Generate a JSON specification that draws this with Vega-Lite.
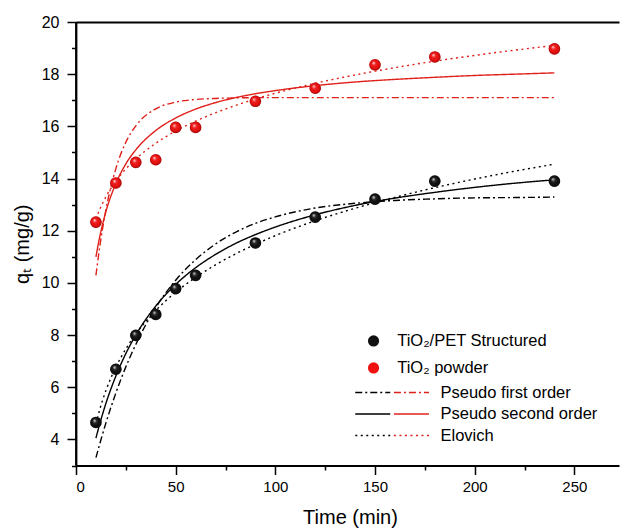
{
  "$schema": "https://vega.github.io/schema/vega-lite/v6.json",
  "width": 543,
  "height": 443.5,
  "autosize": "none",
  "padding": {"left": 76, "top": 22, "right": 2, "bottom": 62},
  "background": "white",
  "config": {
    "font": "Liberation Sans",
    "view": {"stroke": null},
    "axis": {"domainColor": "#000", "tickColor": "#000", "labelColor": "#000", "titleColor": "#000", "grid": false, "domainWidth": 1.8, "tickWidth": 1.5, "labelFont": "Liberation Sans", "titleFont": "Liberation Sans", "titleFontWeight": "normal"},
    "legend": {"labelFont": "Liberation Sans", "labelColor": "#000", "labelFontSize": 16.5, "labelLimit": 300, "padding": 0}
  },
  "datasets": {
    "fits": [
      {"t": 10, "q": 3.30, "series": "TiO2/PET", "model": "Pseudo first order"},
      {"t": 12, "q": 3.85, "series": "TiO2/PET", "model": "Pseudo first order"},
      {"t": 15, "q": 4.63, "series": "TiO2/PET", "model": "Pseudo first order"},
      {"t": 20, "q": 5.78, "series": "TiO2/PET", "model": "Pseudo first order"},
      {"t": 25, "q": 6.78, "series": "TiO2/PET", "model": "Pseudo first order"},
      {"t": 30, "q": 7.64, "series": "TiO2/PET", "model": "Pseudo first order"},
      {"t": 40, "q": 9.05, "series": "TiO2/PET", "model": "Pseudo first order"},
      {"t": 50, "q": 10.10, "series": "TiO2/PET", "model": "Pseudo first order"},
      {"t": 60, "q": 10.89, "series": "TiO2/PET", "model": "Pseudo first order"},
      {"t": 70, "q": 11.49, "series": "TiO2/PET", "model": "Pseudo first order"},
      {"t": 80, "q": 11.94, "series": "TiO2/PET", "model": "Pseudo first order"},
      {"t": 90, "q": 12.28, "series": "TiO2/PET", "model": "Pseudo first order"},
      {"t": 100, "q": 12.53, "series": "TiO2/PET", "model": "Pseudo first order"},
      {"t": 120, "q": 12.87, "series": "TiO2/PET", "model": "Pseudo first order"},
      {"t": 140, "q": 13.05, "series": "TiO2/PET", "model": "Pseudo first order"},
      {"t": 160, "q": 13.16, "series": "TiO2/PET", "model": "Pseudo first order"},
      {"t": 180, "q": 13.22, "series": "TiO2/PET", "model": "Pseudo first order"},
      {"t": 200, "q": 13.26, "series": "TiO2/PET", "model": "Pseudo first order"},
      {"t": 220, "q": 13.27, "series": "TiO2/PET", "model": "Pseudo first order"},
      {"t": 240, "q": 13.29, "series": "TiO2/PET", "model": "Pseudo first order"},
      {"t": 10, "q": 4.05, "series": "TiO2/PET", "model": "Pseudo second order"},
      {"t": 12, "q": 4.62, "series": "TiO2/PET", "model": "Pseudo second order"},
      {"t": 15, "q": 5.38, "series": "TiO2/PET", "model": "Pseudo second order"},
      {"t": 20, "q": 6.43, "series": "TiO2/PET", "model": "Pseudo second order"},
      {"t": 25, "q": 7.29, "series": "TiO2/PET", "model": "Pseudo second order"},
      {"t": 30, "q": 8.00, "series": "TiO2/PET", "model": "Pseudo second order"},
      {"t": 40, "q": 9.11, "series": "TiO2/PET", "model": "Pseudo second order"},
      {"t": 50, "q": 9.94, "series": "TiO2/PET", "model": "Pseudo second order"},
      {"t": 60, "q": 10.58, "series": "TiO2/PET", "model": "Pseudo second order"},
      {"t": 70, "q": 11.09, "series": "TiO2/PET", "model": "Pseudo second order"},
      {"t": 80, "q": 11.51, "series": "TiO2/PET", "model": "Pseudo second order"},
      {"t": 90, "q": 11.85, "series": "TiO2/PET", "model": "Pseudo second order"},
      {"t": 100, "q": 12.14, "series": "TiO2/PET", "model": "Pseudo second order"},
      {"t": 120, "q": 12.61, "series": "TiO2/PET", "model": "Pseudo second order"},
      {"t": 140, "q": 12.97, "series": "TiO2/PET", "model": "Pseudo second order"},
      {"t": 160, "q": 13.25, "series": "TiO2/PET", "model": "Pseudo second order"},
      {"t": 180, "q": 13.47, "series": "TiO2/PET", "model": "Pseudo second order"},
      {"t": 200, "q": 13.66, "series": "TiO2/PET", "model": "Pseudo second order"},
      {"t": 220, "q": 13.82, "series": "TiO2/PET", "model": "Pseudo second order"},
      {"t": 240, "q": 13.95, "series": "TiO2/PET", "model": "Pseudo second order"},
      {"t": 10, "q": 4.60, "series": "TiO2/PET", "model": "Elovich"},
      {"t": 12, "q": 5.17, "series": "TiO2/PET", "model": "Elovich"},
      {"t": 15, "q": 5.87, "series": "TiO2/PET", "model": "Elovich"},
      {"t": 20, "q": 6.77, "series": "TiO2/PET", "model": "Elovich"},
      {"t": 25, "q": 7.47, "series": "TiO2/PET", "model": "Elovich"},
      {"t": 30, "q": 8.04, "series": "TiO2/PET", "model": "Elovich"},
      {"t": 40, "q": 8.94, "series": "TiO2/PET", "model": "Elovich"},
      {"t": 50, "q": 9.64, "series": "TiO2/PET", "model": "Elovich"},
      {"t": 60, "q": 10.21, "series": "TiO2/PET", "model": "Elovich"},
      {"t": 70, "q": 10.69, "series": "TiO2/PET", "model": "Elovich"},
      {"t": 80, "q": 11.11, "series": "TiO2/PET", "model": "Elovich"},
      {"t": 90, "q": 11.48, "series": "TiO2/PET", "model": "Elovich"},
      {"t": 100, "q": 11.81, "series": "TiO2/PET", "model": "Elovich"},
      {"t": 120, "q": 12.38, "series": "TiO2/PET", "model": "Elovich"},
      {"t": 140, "q": 12.86, "series": "TiO2/PET", "model": "Elovich"},
      {"t": 160, "q": 13.28, "series": "TiO2/PET", "model": "Elovich"},
      {"t": 180, "q": 13.65, "series": "TiO2/PET", "model": "Elovich"},
      {"t": 200, "q": 13.98, "series": "TiO2/PET", "model": "Elovich"},
      {"t": 220, "q": 14.28, "series": "TiO2/PET", "model": "Elovich"},
      {"t": 240, "q": 14.55, "series": "TiO2/PET", "model": "Elovich"},
      {"t": 10, "q": 10.29, "series": "TiO2 powder", "model": "Pseudo first order"},
      {"t": 12, "q": 11.43, "series": "TiO2 powder", "model": "Pseudo first order"},
      {"t": 15, "q": 12.80, "series": "TiO2 powder", "model": "Pseudo first order"},
      {"t": 20, "q": 14.38, "series": "TiO2 powder", "model": "Pseudo first order"},
      {"t": 25, "q": 15.39, "series": "TiO2 powder", "model": "Pseudo first order"},
      {"t": 30, "q": 16.02, "series": "TiO2 powder", "model": "Pseudo first order"},
      {"t": 40, "q": 16.67, "series": "TiO2 powder", "model": "Pseudo first order"},
      {"t": 50, "q": 16.93, "series": "TiO2 powder", "model": "Pseudo first order"},
      {"t": 60, "q": 17.03, "series": "TiO2 powder", "model": "Pseudo first order"},
      {"t": 70, "q": 17.07, "series": "TiO2 powder", "model": "Pseudo first order"},
      {"t": 80, "q": 17.09, "series": "TiO2 powder", "model": "Pseudo first order"},
      {"t": 90, "q": 17.10, "series": "TiO2 powder", "model": "Pseudo first order"},
      {"t": 100, "q": 17.10, "series": "TiO2 powder", "model": "Pseudo first order"},
      {"t": 120, "q": 17.10, "series": "TiO2 powder", "model": "Pseudo first order"},
      {"t": 140, "q": 17.10, "series": "TiO2 powder", "model": "Pseudo first order"},
      {"t": 160, "q": 17.10, "series": "TiO2 powder", "model": "Pseudo first order"},
      {"t": 180, "q": 17.10, "series": "TiO2 powder", "model": "Pseudo first order"},
      {"t": 200, "q": 17.10, "series": "TiO2 powder", "model": "Pseudo first order"},
      {"t": 220, "q": 17.10, "series": "TiO2 powder", "model": "Pseudo first order"},
      {"t": 240, "q": 17.10, "series": "TiO2 powder", "model": "Pseudo first order"},
      {"t": 10, "q": 11.00, "series": "TiO2 powder", "model": "Pseudo second order"},
      {"t": 12, "q": 11.80, "series": "TiO2 powder", "model": "Pseudo second order"},
      {"t": 15, "q": 12.73, "series": "TiO2 powder", "model": "Pseudo second order"},
      {"t": 20, "q": 13.81, "series": "TiO2 powder", "model": "Pseudo second order"},
      {"t": 25, "q": 14.56, "series": "TiO2 powder", "model": "Pseudo second order"},
      {"t": 30, "q": 15.10, "series": "TiO2 powder", "model": "Pseudo second order"},
      {"t": 40, "q": 15.84, "series": "TiO2 powder", "model": "Pseudo second order"},
      {"t": 50, "q": 16.32, "series": "TiO2 powder", "model": "Pseudo second order"},
      {"t": 60, "q": 16.66, "series": "TiO2 powder", "model": "Pseudo second order"},
      {"t": 70, "q": 16.91, "series": "TiO2 powder", "model": "Pseudo second order"},
      {"t": 80, "q": 17.10, "series": "TiO2 powder", "model": "Pseudo second order"},
      {"t": 90, "q": 17.25, "series": "TiO2 powder", "model": "Pseudo second order"},
      {"t": 100, "q": 17.37, "series": "TiO2 powder", "model": "Pseudo second order"},
      {"t": 120, "q": 17.56, "series": "TiO2 powder", "model": "Pseudo second order"},
      {"t": 140, "q": 17.70, "series": "TiO2 powder", "model": "Pseudo second order"},
      {"t": 160, "q": 17.80, "series": "TiO2 powder", "model": "Pseudo second order"},
      {"t": 180, "q": 17.88, "series": "TiO2 powder", "model": "Pseudo second order"},
      {"t": 200, "q": 17.95, "series": "TiO2 powder", "model": "Pseudo second order"},
      {"t": 220, "q": 18.00, "series": "TiO2 powder", "model": "Pseudo second order"},
      {"t": 240, "q": 18.05, "series": "TiO2 powder", "model": "Pseudo second order"},
      {"t": 10, "q": 12.45, "series": "TiO2 powder", "model": "Elovich"},
      {"t": 12, "q": 12.83, "series": "TiO2 powder", "model": "Elovich"},
      {"t": 15, "q": 13.30, "series": "TiO2 powder", "model": "Elovich"},
      {"t": 20, "q": 13.90, "series": "TiO2 powder", "model": "Elovich"},
      {"t": 25, "q": 14.37, "series": "TiO2 powder", "model": "Elovich"},
      {"t": 30, "q": 14.75, "series": "TiO2 powder", "model": "Elovich"},
      {"t": 40, "q": 15.35, "series": "TiO2 powder", "model": "Elovich"},
      {"t": 50, "q": 15.82, "series": "TiO2 powder", "model": "Elovich"},
      {"t": 60, "q": 16.20, "series": "TiO2 powder", "model": "Elovich"},
      {"t": 70, "q": 16.52, "series": "TiO2 powder", "model": "Elovich"},
      {"t": 80, "q": 16.80, "series": "TiO2 powder", "model": "Elovich"},
      {"t": 90, "q": 17.05, "series": "TiO2 powder", "model": "Elovich"},
      {"t": 100, "q": 17.27, "series": "TiO2 powder", "model": "Elovich"},
      {"t": 120, "q": 17.65, "series": "TiO2 powder", "model": "Elovich"},
      {"t": 140, "q": 17.97, "series": "TiO2 powder", "model": "Elovich"},
      {"t": 160, "q": 18.25, "series": "TiO2 powder", "model": "Elovich"},
      {"t": 180, "q": 18.50, "series": "TiO2 powder", "model": "Elovich"},
      {"t": 200, "q": 18.72, "series": "TiO2 powder", "model": "Elovich"},
      {"t": 220, "q": 18.92, "series": "TiO2 powder", "model": "Elovich"},
      {"t": 240, "q": 19.10, "series": "TiO2 powder", "model": "Elovich"}
    ],
    "obs": [
      {"t": 10, "q": 4.65, "series": "TiO₂/PET Structured"},
      {"t": 20, "q": 6.69, "series": "TiO₂/PET Structured"},
      {"t": 30, "q": 7.99, "series": "TiO₂/PET Structured"},
      {"t": 40, "q": 8.79, "series": "TiO₂/PET Structured"},
      {"t": 50, "q": 9.78, "series": "TiO₂/PET Structured"},
      {"t": 60, "q": 10.29, "series": "TiO₂/PET Structured"},
      {"t": 90, "q": 11.53, "series": "TiO₂/PET Structured"},
      {"t": 120, "q": 12.52, "series": "TiO₂/PET Structured"},
      {"t": 150, "q": 13.21, "series": "TiO₂/PET Structured"},
      {"t": 180, "q": 13.90, "series": "TiO₂/PET Structured"},
      {"t": 240, "q": 13.90, "series": "TiO₂/PET Structured"},
      {"t": 10, "q": 12.33, "series": "TiO₂ powder"},
      {"t": 20, "q": 13.83, "series": "TiO₂ powder"},
      {"t": 30, "q": 14.62, "series": "TiO₂ powder"},
      {"t": 40, "q": 14.72, "series": "TiO₂ powder"},
      {"t": 50, "q": 15.96, "series": "TiO₂ powder"},
      {"t": 60, "q": 15.96, "series": "TiO₂ powder"},
      {"t": 90, "q": 16.96, "series": "TiO₂ powder"},
      {"t": 120, "q": 17.46, "series": "TiO₂ powder"},
      {"t": 150, "q": 18.36, "series": "TiO₂ powder"},
      {"t": 180, "q": 18.66, "series": "TiO₂ powder"},
      {"t": 240, "q": 18.97, "series": "TiO₂ powder"}
    ],
    "frame": [{"t": 0}]
  },
  "layer": [
    {
      "data": {"name": "fits"},
      "transform": [{"filter": "datum.series == 'TiO2/PET'"}],
      "mark": {"type": "line", "stroke": "#000000", "strokeWidth": 1.4, "interpolate": "monotone"},
      "encoding": {
        "x": {"field": "t", "type": "quantitative", "scale": {"domain": [0, 272.4], "nice": false, "zero": false},
          "axis": {"orient": "bottom", "domain": true, "ticks": true, "values": [0, 50, 100, 150, 200, 250], "tickSize": 9, "labelFontSize": 15, "labelPadding": 5, "title": "Time (min)", "titleFontSize": 20, "titlePadding": 13, "titleX": 274}},
        "y": {"field": "q", "type": "quantitative", "scale": {"domain": [3, 20], "nice": false, "zero": false},
          "axis": {"orient": "left", "domain": true, "ticks": true, "values": [4, 6, 8, 10, 12, 14, 16, 18, 20], "tickSize": 9, "labelFontSize": 16, "labelPadding": 8, "title": "qₜ (mg/g)", "titleFontSize": 20, "titlePadding": 9}},
        "strokeDash": {"field": "model", "type": "nominal",
          "scale": {"domain": ["Pseudo first order", "Pseudo second order", "Elovich"], "range": [[7, 3, 2, 3], [1, 0], [2, 3.5]]},
          "legend": {"orient": "none", "legendX": 288.5, "legendY": 362.3, "title": null, "symbolType": "M-3.5,0H3.5", "symbolSize": 100, "symbolStrokeColor": "#000000", "symbolStrokeWidth": 1.4, "labelExpr": "''", "rowPadding": 4.5}}
      }
    },
    {
      "data": {"name": "fits"},
      "transform": [{"filter": "datum.series == 'TiO2 powder'"}],
      "mark": {"type": "line", "stroke": "#e0201a", "strokeWidth": 1.4, "interpolate": "monotone"},
      "encoding": {
        "x": {"field": "t", "type": "quantitative",
          "axis": {"orient": "bottom", "values": [25, 75, 125, 175, 225], "tickSize": 4.5, "labels": false, "domain": false, "title": null}},
        "y": {"field": "q", "type": "quantitative",
          "axis": {"orient": "left", "values": [3, 5, 7, 9, 11, 13, 15, 17, 19], "tickSize": 4.5, "labels": false, "domain": false, "title": null}},
        "strokeDash": {"field": "model", "type": "nominal",
          "scale": {"domain": ["Pseudo first order", "Pseudo second order", "Elovich"], "range": [[7, 3, 2, 3], [1, 0], [2, 3.5]]},
          "legend": {"orient": "none", "legendX": 327.2, "legendY": 362.3, "title": null, "symbolType": "M-3.5,0H3.5", "symbolSize": 100, "symbolStrokeColor": "#e0201a", "symbolStrokeWidth": 1.4, "labelOffset": 20.8, "rowPadding": 4.5}}
      }
    },
    {
      "data": {"name": "frame"},
      "mark": {"type": "rule", "stroke": "#000000", "strokeWidth": 1.8},
      "encoding": {
        "x": {"field": "t", "type": "quantitative", "axis": null}
      }
    },
    {
      "data": {"name": "obs"},
      "mark": {"type": "point", "shape": "circle", "filled": true, "size": 135, "opacity": 1, "strokeWidth": 0},
      "encoding": {
        "x": {"field": "t", "type": "quantitative",
          "axis": {"orient": "top", "domain": true, "ticks": false, "labels": false, "title": null}},
        "y": {"field": "q", "type": "quantitative", "axis": null},
        "color": {"field": "series", "type": "nominal",
          "scale": {"domain": ["TiO₂/PET Structured", "TiO₂ powder"], "range": ["#111111", "#f01010"]},
          "legend": {"orient": "none", "legendX": 289.3, "legendY": 310.7, "title": null, "symbolType": "circle", "symbolSize": 125, "symbolOpacity": 1, "symbolStrokeWidth": 0, "labelOffset": 15.4, "rowPadding": 10}}
      }
    },
    {
      "data": {"name": "obs"},
      "mark": {"type": "point", "shape": "circle", "filled": true, "size": 135, "opacity": 1, "strokeWidth": 0,
        "fill": {"gradient": "radial", "x1": 0.36, "y1": 0.32, "r1": 0, "x2": 0.5, "y2": 0.5, "r2": 0.5,
          "stops": [
            {"offset": 0, "color": "rgba(255,255,255,0.95)"},
            {"offset": 0.3, "color": "rgba(255,255,255,0.15)"},
            {"offset": 0.7, "color": "rgba(0,0,0,0)"},
            {"offset": 1, "color": "rgba(0,0,0,0.35)"}
          ]}},
      "encoding": {
        "x": {"field": "t", "type": "quantitative", "axis": null},
        "y": {"field": "q", "type": "quantitative", "axis": null}
      }
    }
  ],
  "resolve": {
    "scale": {"strokeDash": "independent"},
    "legend": {"strokeDash": "independent"},
    "axis": {"x": "independent", "y": "independent"}
  }
}
